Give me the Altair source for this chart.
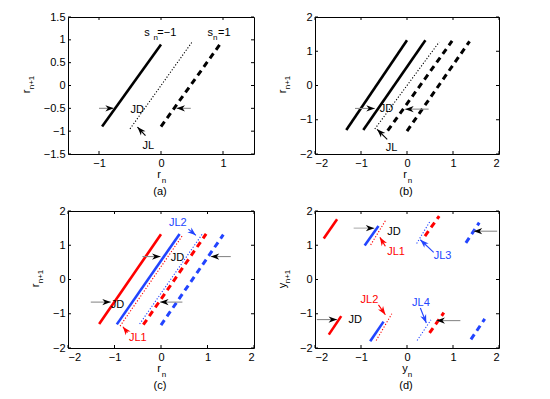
import math
import altair as alt
import pandas as pd

FONT = "Liberation Sans"
RED = "#ff0000"
BLUE = "#2244ff"
BLK = "#000000"
GRY = "#8c8c8c"

# ---------------- panel setup ----------------
PANELS = ["a", "b", "c", "d"]
PANEL_W = {"a": 186, "b": 184, "c": 186, "d": 184}
PANEL_H = 137
X_DOMAIN = {"a": [-1.5, 1.5], "b": [-2, 2], "c": [-2, 2], "d": [-2, 2]}
Y_DOMAIN = {"a": [-1.5, 1.5], "b": [-2, 2], "c": [-2, 2], "d": [-2, 2]}
X_TICKS = {"a": [-1, 0, 1], "b": [-2, -1, 0, 1, 2], "c": [-2, -1, 0, 1, 2], "d": [-2, -1, 0, 1, 2]}
Y_TICKS = {"a": [-1.5, -1, -0.5, 0, 0.5, 1, 1.5], "b": [-2, -1, 0, 1, 2],
           "c": [-2, -1, 0, 1, 2], "d": [-2, -1, 0, 1, 2]}
AXIS_VAR = {"a": "r", "b": "r", "c": "r", "d": "y"}
CAPTION = {"a": "(a)", "b": "(b)", "c": "(c)", "d": "(d)"}
YTITLE_X = {"a": -41, "b": -32, "c": -32, "d": -32}

# ---------------- line segments ----------------
seg_panel = ["a", "a", "a",
             "b", "b", "b", "b", "b",
             "c", "c", "c", "c", "c", "c",
             "d", "d", "d", "d", "d", "d", "d", "d", "d", "d", "d", "d"]
seg_style = ["solid", "dotted", "dashed",
             "solid", "solid", "dotted", "dashed", "dashed",
             "solid", "solid", "dotted", "dotted", "dashed", "dashed",
             "solid", "solid", "dotted", "dotted", "dashed", "dashed",
             "solid", "solid", "dotted", "dotted", "dashed", "dashed"]
seg_color = [BLK, BLK, BLK,
             BLK, BLK, BLK, BLK, BLK,
             RED, BLUE, RED, BLUE, RED, BLUE,
             RED, BLUE, RED, BLUE, RED, BLUE,
             RED, BLUE, RED, BLUE, RED, BLUE]
seg_x0 = [-0.95, -0.5, 0.0,
          -1.32, -0.95, -0.7, -0.42, 0.0,
          -1.33, -0.95, -0.88, -0.46, -0.38, 0.0,
          -1.81, -0.92, -0.79, 0.21, 0.39, 1.28,
          -1.70, -0.80, -0.67, 0.22, 0.49, 1.39]
seg_y0 = [-0.9, -0.95, -0.9,
          -1.3, -1.3, -1.27, -1.32, -1.33,
          -1.3, -1.31, -1.36, -1.3, -1.32, -1.33,
          1.2, 0.99, 1.01, 1.05, 1.27, 1.07,
          -1.61, -1.8, -1.78, -1.78, -1.56, -1.75]
seg_x1 = [0.0, 0.5, 0.95,
          0.0, 0.4, 0.7, 0.98, 1.36,
          0.0, 0.4, 0.47, 0.9, 0.97, 1.34,
          -1.52, -0.62, -0.45, 0.5, 0.7, 1.57,
          -1.43, -0.51, -0.33, 0.52, 0.8, 1.69]
seg_y1 = [0.9, 0.95, 0.9,
          1.32, 1.32, 1.27, 1.3, 1.29,
          1.32, 1.33, 1.3, 1.35, 1.33, 1.31,
          1.76, 1.56, 1.76, 1.7, 1.85, 1.66,
          -1.07, -1.23, -1.0, -1.18, -0.97, -1.15]

# ---------------- arrows (tail -> tip) ----------------
arr_panel = ["a", "a", "a",
             "b", "b", "b",
             "c", "c", "c", "c", "c", "c",
             "d", "d", "d", "d", "d", "d", "d", "d"]
arr_shaft = [GRY, GRY, BLK,
             GRY, GRY, BLK,
             GRY, GRY, GRY, GRY, RED, BLUE,
             "#b0b0b0", RED, BLUE, GRY, GRY, RED, BLUE, GRY]
arr_head = [BLK, BLK, BLK,
            BLK, BLK, BLK,
            BLK, BLK, BLK, BLK, RED, BLUE,
            BLK, RED, BLUE, BLK, BLK, RED, BLUE, BLK]
arr_x0 = [-1.0, 0.48, -0.25,
          -1.13, 0.47, -0.43,
          -0.4, 1.5, -1.51, 0.46, -0.72, 0.59,
          -1.16, -0.47, 0.58, 1.96, -1.96, -0.62, 0.29, 1.16]
arr_y0 = [-0.5, -0.5, -1.1,
          -0.67, -0.69, -1.57,
          0.67, 0.67, -0.66, -0.66, -1.55, 1.47,
          1.5, 0.97, 0.79, 1.41, -1.17, -0.74, -0.83, -1.2]
arr_x1 = [-0.76, 0.25, -0.38,
          -0.7, -0.04, -0.65,
          -0.01, 1.07, -1.08, -0.02, -0.82, 0.75,
          -0.71, -0.59, 0.29, 1.45, -1.52, -0.47, 0.42, 0.64]
arr_y1 = [-0.5, -0.5, -0.91,
          -0.67, -0.69, -1.28,
          0.67, 0.67, -0.66, -0.66, -1.38, 1.29,
          1.5, 1.23, 1.16, 1.41, -1.17, -1.03, -1.27, -1.2]

# ---------------- annotation texts (left edge, vertical centre) ----------------
txt_panel = ["a", "a", "a", "a", "a", "a", "a", "a",
             "b", "b",
             "c", "c", "c", "c",
             "d", "d", "d", "d", "d", "d"]
txt_text = ["JD", "JL", "s", "n", "=\u22121", "s", "n", "=1",
            "JD", "JL",
            "JD", "JD", "JL1", "JL2",
            "JD", "JL1", "JL3", "JD", "JL2", "JL4"]
txt_color = [BLK, BLK, BLK, BLK, BLK, BLK, BLK, BLK,
             BLK, BLK,
             BLK, BLK, RED, BLUE,
             BLK, RED, BLUE, BLK, RED, BLUE]
txt_size = [11, 11, 11, 8, 11, 11, 8, 11,
            11, 11,
            11, 11, 11, 11,
            11, 11, 11, 11, 11, 11]
txt_x = [-0.49, -0.3, -0.27, -0.12, -0.06, 0.75, 0.84, 0.92,
         -0.59, -0.46,
         0.21, -1.08, -0.69, 0.17,
         -0.43, -0.43, 0.58, -1.27, -1.01, 0.11]
txt_y = [-0.54, -1.32, 1.14, 1.03, 1.14, 1.14, 1.03, 1.14,
         -0.69, -1.82,
         0.62, -0.75, -1.72, 1.66,
         1.39, 0.79, 0.68, -1.19, -0.61, -0.69]

seg_df = pd.DataFrame({"panel": seg_panel, "style": seg_style, "color": seg_color,
                       "x0": seg_x0, "y0": seg_y0, "x1": seg_x1, "y1": seg_y1})
arr_df = pd.DataFrame({"panel": arr_panel, "shaft": arr_shaft, "head": arr_head,
                       "x0": arr_x0, "y0": arr_y0, "x1": arr_x1, "y1": arr_y1})
txt_df = pd.DataFrame({"panel": txt_panel, "text": txt_text, "color": txt_color,
                       "size": txt_size, "x": txt_x, "y": txt_y})

# dart-shaped arrow head, tip at origin, pointing up before rotation
HEAD = "M0,0 L0.62,1.7 L0,1.2 L-0.62,1.7 Z"

STYLE = {"solid": dict(strokeWidth=2.6),
         "dotted": dict(strokeWidth=1.1, strokeDash=[1.2, 1.8]),
         "dashed": dict(strokeWidth=3, strokeDash=[6, 4.5])}


def make_panel(p):
    W, H = PANEL_W[p], PANEL_H
    xd, yd = X_DOMAIN[p], Y_DOMAIN[p]
    xs = alt.Scale(domain=xd, nice=False, zero=False)
    ys = alt.Scale(domain=yd, nice=False, zero=False)
    common_axis = dict(format="~g", grid=False, ticks=False, tickSize=0, domain=False,
                       labelPadding=3, labelFont=FONT, labelFontSize=11,
                       labelColor="black", title="", labelOverlap=False)
    xaxis = alt.Axis(values=X_TICKS[p], **common_axis)
    yaxis = alt.Axis(values=Y_TICKS[p], **common_axis)

    def X(f):
        return alt.X(f, scale=xs, axis=xaxis)

    def Y(f):
        return alt.Y(f, scale=ys, axis=yaxis)

    layers = []
    sd = seg_df[seg_df.panel == p]
    for style in ["solid", "dotted", "dashed"]:
        d = sd[sd["style"] == style]
        layers.append(
            alt.Chart(d).mark_rule(**STYLE[style]).encode(
                x=X("x0:Q"), y=Y("y0:Q"),
                x2="x1:Q", y2="y1:Q",
                color=alt.Color("color:N", scale=None),
            )
        )

    kx = W / (xd[1] - xd[0])
    ky = H / (yd[1] - yd[0])
    ad = arr_df[arr_df.panel == p].copy()
    ad["ang"] = [
        (math.degrees(math.atan2((r.x1 - r.x0) * kx, (r.y1 - r.y0) * ky)) + 360) % 360
        for r in ad.itertuples()
    ]
    layers.append(
        alt.Chart(ad).mark_rule(strokeWidth=1.1).encode(
            x=X("x0:Q"), y=Y("y0:Q"),
            x2="x1:Q", y2="y1:Q", color=alt.Color("shaft:N", scale=None),
        )
    )
    layers.append(
        alt.Chart(ad).mark_point(shape=HEAD, filled=True, size=100, opacity=1, strokeWidth=0).encode(
            x=X("x1:Q"), y=Y("y1:Q"),
            angle=alt.Angle("ang:Q", scale=None),
            color=alt.Color("head:N", scale=None),
        )
    )

    td = txt_df[txt_df.panel == p]
    layers.append(
        alt.Chart(td).mark_text(align="left", baseline="middle", font=FONT).encode(
            x=X("x:Q"), y=Y("y:Q"),
            text="text:N", color=alt.Color("color:N", scale=None),
            size=alt.Size("size:Q", scale=None),
        )
    )

    # inward ticks on all four sides
    xt = pd.DataFrame({"v": X_TICKS[p]})
    yt = pd.DataFrame({"v": Y_TICKS[p]})
    tl = 3
    layers.append(alt.Chart(xt).mark_rule(color="black", strokeWidth=1).encode(
        x=X("v:Q"), y=alt.value(H), y2=alt.value(H - tl)))
    layers.append(alt.Chart(xt).mark_rule(color="black", strokeWidth=1).encode(
        x=X("v:Q"), y=alt.value(0), y2=alt.value(tl)))
    layers.append(alt.Chart(yt).mark_rule(color="black", strokeWidth=1).encode(
        y=Y("v:Q"), x=alt.value(0), x2=alt.value(tl)))
    layers.append(alt.Chart(yt).mark_rule(color="black", strokeWidth=1).encode(
        y=Y("v:Q"), x=alt.value(W), x2=alt.value(W - tl)))

    # axis titles with subscripts, and the panel caption
    one = pd.DataFrame({"k": [0]})
    var = AXIS_VAR[p]

    def label(txt, px, py, size, angle=0):
        kw = dict(align="center", baseline="middle", font=FONT, fontSize=size, color="black")
        if angle:
            kw["angle"] = angle
        return alt.Chart(one).mark_text(**kw).encode(
            x=alt.value(px), y=alt.value(py), text=alt.value(txt))

    layers.append(label(var, W / 2 - 2, H + 21, 11))
    layers.append(label("n", W / 2 + 3, H + 27, 8))
    layers.append(label(CAPTION[p], W / 2 - 1, H + 38, 11))
    yx = YTITLE_X[p]
    layers.append(label(var, yx, H / 2 + 6, 11, 270))
    layers.append(label("n+1", yx + 4.5, H / 2 - 3, 8, 270))

    return alt.layer(*layers).properties(width=W, height=H)


chart = alt.concat(
    *[make_panel(p) for p in PANELS],
    columns=2,
    spacing={"row": 57, "column": 61},
    bounds="flush",
).properties(
    padding={"left": 12, "top": 2, "right": 5, "bottom": 5},
    background="white",
).configure_view(
    stroke="black", strokeWidth=1
)

chart.save("out.html", embed_options={"renderer": "svg", "actions": False})
